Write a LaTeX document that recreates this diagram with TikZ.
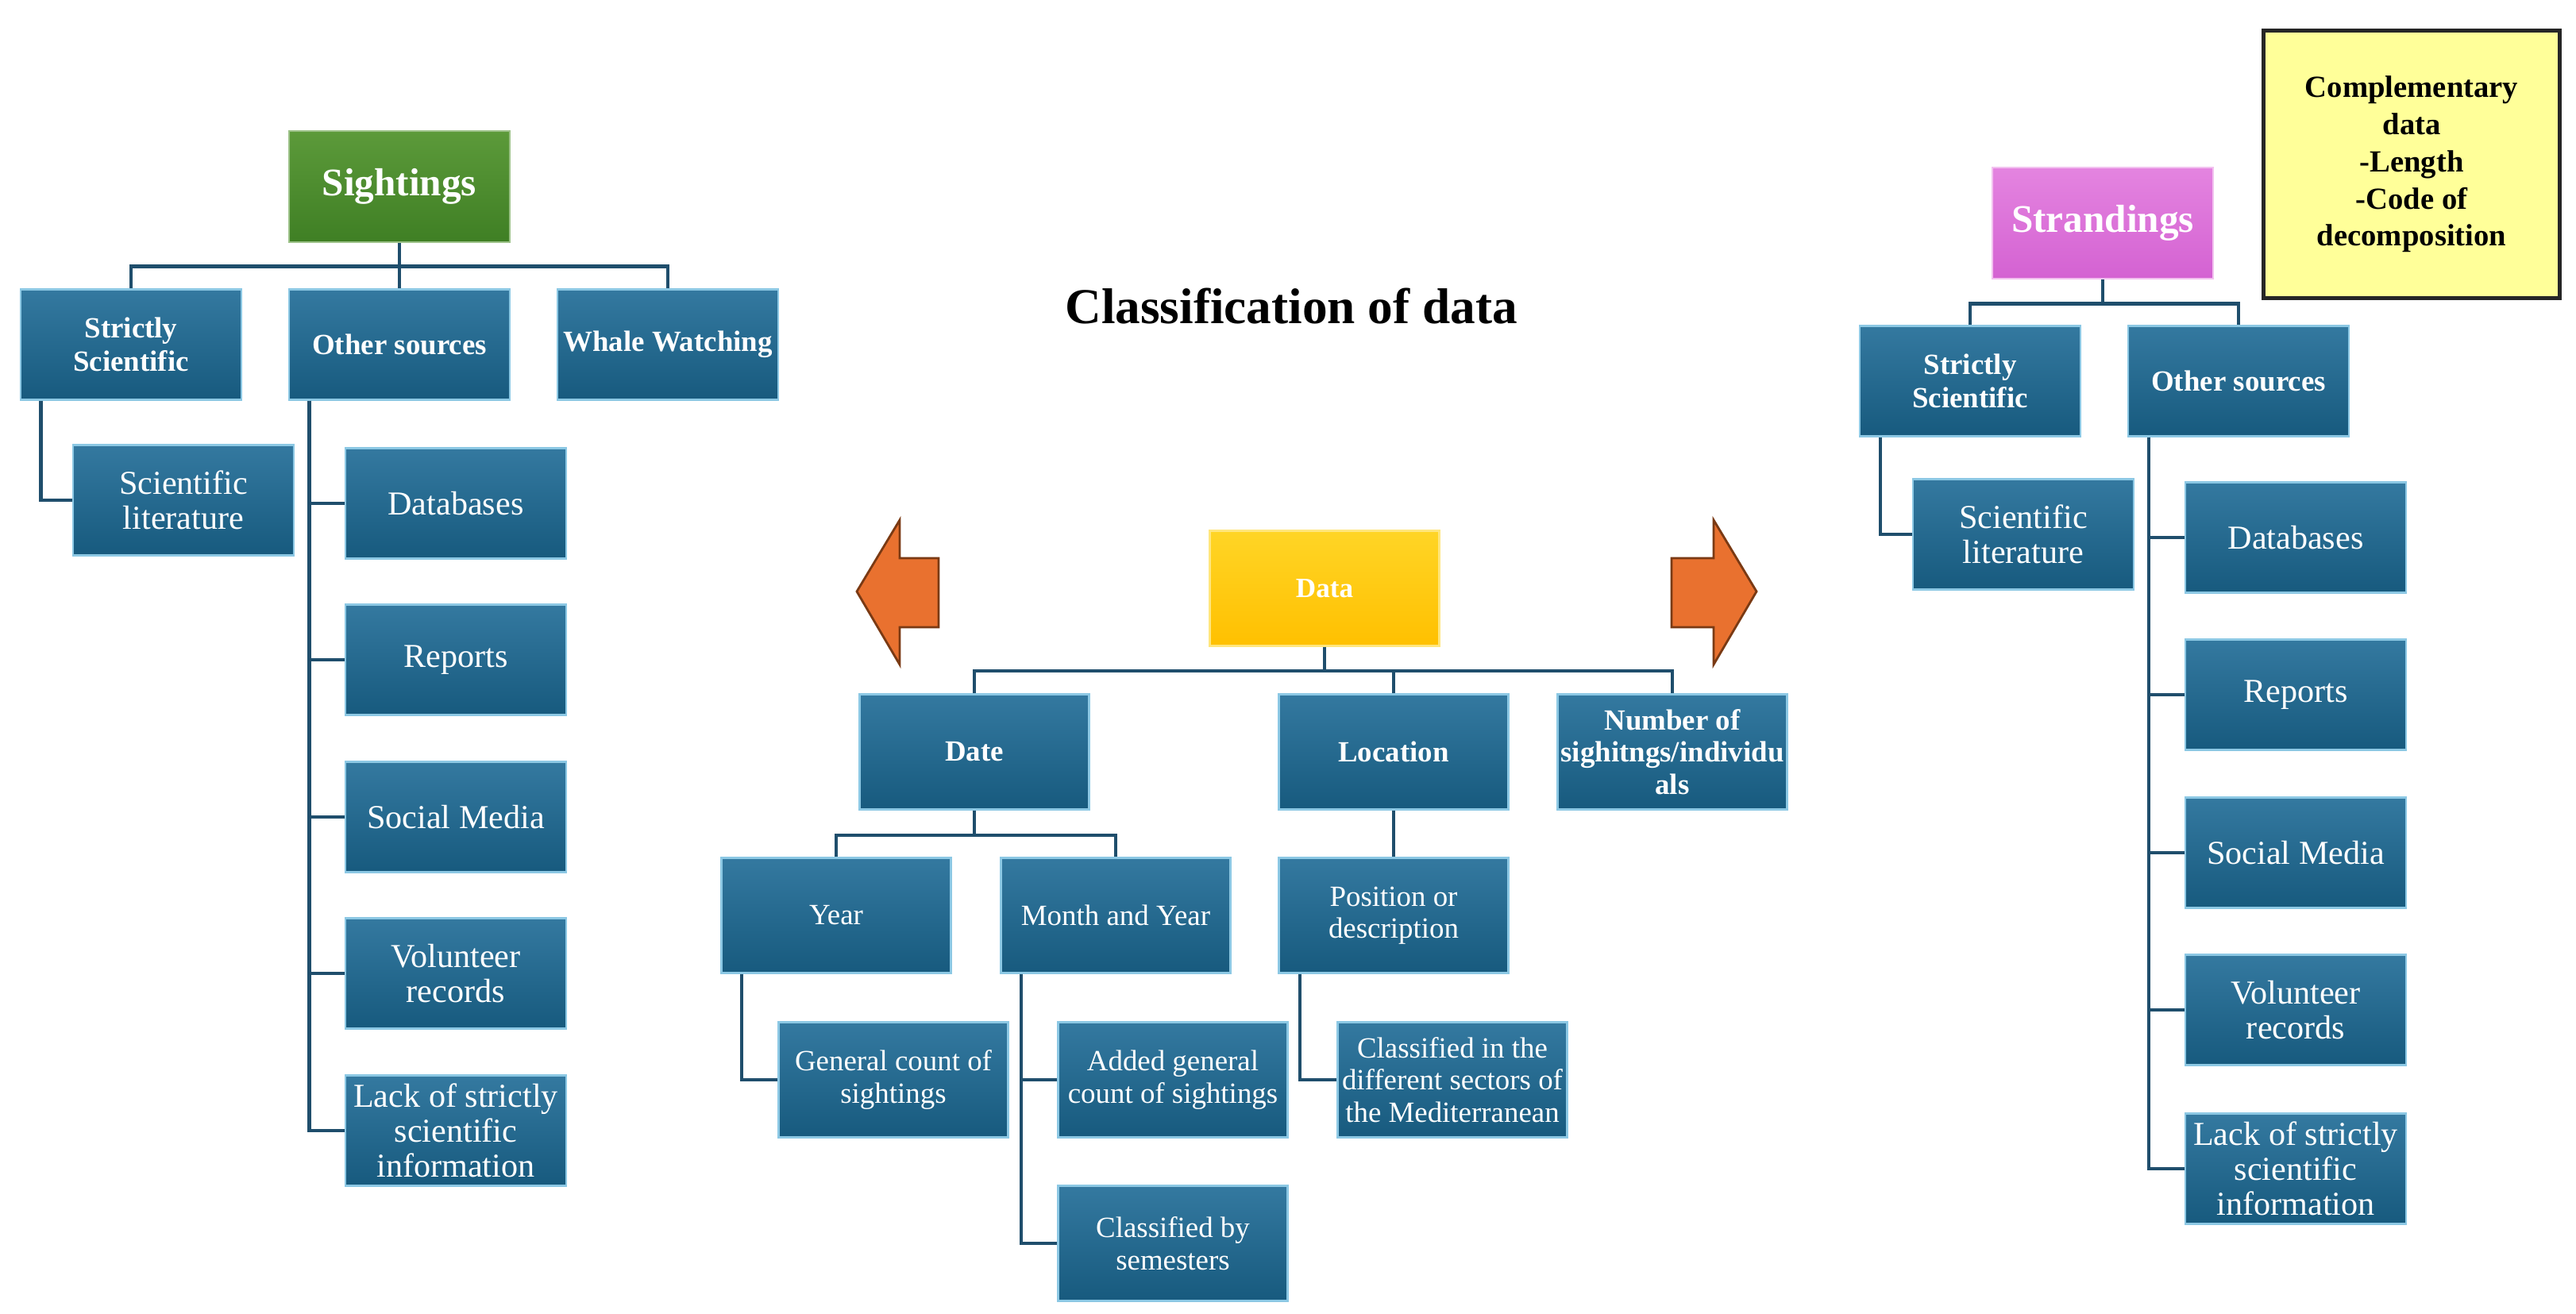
\documentclass[tikz,border=0pt]{standalone}
\usepackage{fontspec}
\setmainfont{Liberation Serif}
\usepackage{tikz}
\usetikzlibrary{positioning}
\definecolor{boxtop}{HTML}{3479A0}
\definecolor{boxbot}{HTML}{175A7E}
\definecolor{boxrim}{HTML}{8CC8E4}
\definecolor{linkcol}{HTML}{1F4E6C}
\definecolor{arrowfill}{HTML}{E9712F}
\definecolor{arrowrim}{HTML}{7A3A14}
\definecolor{notefill}{HTML}{FFFF99}
\definecolor{sighttop}{HTML}{5C9A3A}
\definecolor{sightbot}{HTML}{3F7F24}
\definecolor{datatop}{HTML}{FFD526}
\definecolor{databot}{HTML}{FFC000}
\definecolor{strandtop}{HTML}{E484E0}
\definecolor{strandbot}{HTML}{D462D2}
\tikzset{leaf/.style = {rectangle, minimum width = 2.78cm, minimum height = 1.39cm,
                        inner sep = 0, top color = boxtop, bottom color = boxbot,
                        draw = boxrim, line width = 0.8pt, text = white, align = center,
                        font = \fontsize{12}{12.5}\selectfont}}
\tikzset{head/.style = {leaf, font = \bfseries\fontsize{10.5}{12}\selectfont}}
\tikzset{cleaf/.style = {leaf, minimum width = 2.89cm, minimum height = 1.45cm,
                         font = \fontsize{10.5}{11.5}\selectfont}}
\tikzset{chead/.style = {cleaf, font = \bfseries\fontsize{10.5}{11.5}\selectfont}}
\tikzset{root/.style = {leaf, minimum height = 1.40cm, font = \bfseries\fontsize{14}{16}\selectfont}}
\tikzset{link/.style = {draw = linkcol, line width = 1.2pt}}
\tikzset{bigarrow/.style = {fill = arrowfill, draw = arrowrim, line width = 0.8pt, line join = miter}}

\begin{document}
\begin{tikzpicture}
      \useasboundingbox (0, 0) rectangle (32.44, -16.55);

      \node (title) at (16.26, -3.86) [font = \bfseries\fontsize{18}{20}\selectfont] {Classification of data};

      \node (sight) at (5.03, -2.35) [root, top color = sighttop, bottom color = sightbot, draw = sighttop!60!white] {Sightings};
      \node (ss1) at (1.65, -4.34) [head] {Strictly\\Scientific};
      \node (os1) at (5.03, -4.34) [head] {Other sources};
      \node (ww) at (8.41, -4.34) [head] {Whale Watching};
      \node (sl1) at (2.31, -6.30) [leaf] {Scientific\\literature};
      \node (db1) at (5.74, -6.34) [leaf] {Databases};
      \node (rp1) at (5.74, -8.31) [leaf] {Reports};
      \node (sm1) at (5.74, -10.29) [leaf] {Social Media};
      \node (vr1) at (5.74, -12.26) [leaf] {Volunteer\\records};
      \node (lk1) at (5.74, -14.24) [leaf] {Lack of strictly\\scientific\\information};

      \draw [link] (sight.south) -- ++(0, -0.29) -| (ss1.north);
      \draw [link] (sight.south) -- ++(0, -0.29) -| (ww.north);
      \draw [link] (sight.south) -- (os1.north);
      \draw [link] ([xshift = 0.27cm]ss1.south west) |- (sl1.west);
      \draw [link] ([xshift = 0.27cm]os1.south west) |- (db1.west);
      \draw [link] ([xshift = 0.27cm]os1.south west) |- (rp1.west);
      \draw [link] ([xshift = 0.27cm]os1.south west) |- (sm1.west);
      \draw [link] ([xshift = 0.27cm]os1.south west) |- (vr1.west);
      \draw [link] ([xshift = 0.27cm]os1.south west) |- (lk1.west);

      \node (data) at (16.68, -7.41) [cleaf, top color = datatop, bottom color = databot, draw = datatop!60!white, font = \bfseries\fontsize{10}{11}\selectfont] {Data};
      \node (date) at (12.27, -9.47) [chead] {Date};
      \node (loc) at (17.55, -9.47) [chead] {Location};
      \node (num) at (21.06, -9.47) [chead] {Number of\\sighitngs/individu\\als};
      \node (year) at (10.53, -11.53) [cleaf] {Year};
      \node (month) at (14.05, -11.53) [cleaf] {Month and Year};
      \node (pos) at (17.55, -11.53) [cleaf] {Position or\\description};
      \node (gen) at (11.25, -13.60) [cleaf] {General count of\\sightings};
      \node (added) at (14.77, -13.60) [cleaf] {Added general\\count of sightings};
      \node (sem) at (14.77, -15.66) [cleaf] {Classified by\\semesters};
      \node (sect) at (18.29, -13.60) [cleaf] {Classified in the\\different sectors of\\the Mediterranean};

      \draw [link] (data.south) -- ++(0, -0.3) -| (date.north);
      \draw [link] (data.south) -- ++(0, -0.3) -| (loc.north);
      \draw [link] (data.south) -- ++(0, -0.3) -| (num.north);
      \draw [link] (date.south) -- ++(0, -0.31) -| (year.north);
      \draw [link] (date.south) -- ++(0, -0.31) -| (month.north);
      \draw [link] (loc.south) -- (pos.north);
      \draw [link] ([xshift = 0.27cm]year.south west) |- (gen.west);
      \draw [link] ([xshift = 0.27cm]month.south west) |- (added.west);
      \draw [link] ([xshift = 0.27cm]month.south west) |- (sem.west);
      \draw [link] ([xshift = 0.28cm]pos.south west) |- (sect.west);

      \draw [bigarrow] (10.79, -7.45) -- (11.33, -6.55) -- (11.33, -7.03) -- (11.82, -7.03)
                       -- (11.82, -7.90) -- (11.33, -7.90) -- (11.33, -8.37) -- cycle;
      \draw [bigarrow] (22.12, -7.45) -- (21.58, -6.55) -- (21.58, -7.03) -- (21.05, -7.03)
                       -- (21.05, -7.90) -- (21.58, -7.90) -- (21.58, -8.37) -- cycle;

      \node (strand) at (26.48, -2.81) [root, top color = strandtop, bottom color = strandbot, draw = strandtop!50!white] {Strandings};
      \node (note) at (30.37, -2.07) [rectangle, minimum width = 3.73cm, minimum height = 3.37cm, fill = notefill, draw = black!85, line width = 1.5pt, align = center, font = \bfseries\fontsize{11}{13.3}\selectfont] {Complementary\\data\\-Length\\-Code of\\decomposition};
      \node (ss2) at (24.81, -4.80) [head] {Strictly\\Scientific};
      \node (os2) at (28.19, -4.80) [head] {Other sources};
      \node (sl2) at (25.48, -6.73) [leaf] {Scientific\\literature};
      \node (db2) at (28.91, -6.77) [leaf] {Databases};
      \node (rp2) at (28.91, -8.75) [leaf] {Reports};
      \node (sm2) at (28.91, -10.74) [leaf] {Social Media};
      \node (vr2) at (28.91, -12.72) [leaf] {Volunteer\\records};
      \node (lk2) at (28.91, -14.72) [leaf] {Lack of strictly\\scientific\\information};

      \draw [link] (strand.south) -- ++(0, -0.3) -| (ss2.north);
      \draw [link] (strand.south) -- ++(0, -0.3) -| (os2.north);
      \draw [link] ([xshift = 0.27cm]ss2.south west) |- (sl2.west);
      \draw [link] ([xshift = 0.27cm]os2.south west) |- (db2.west);
      \draw [link] ([xshift = 0.27cm]os2.south west) |- (rp2.west);
      \draw [link] ([xshift = 0.27cm]os2.south west) |- (sm2.west);
      \draw [link] ([xshift = 0.27cm]os2.south west) |- (vr2.west);
      \draw [link] ([xshift = 0.27cm]os2.south west) |- (lk2.west);
    \end{tikzpicture}
\end{document}
